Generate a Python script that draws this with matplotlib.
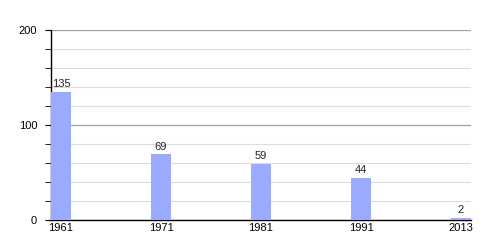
import matplotlib
matplotlib.use("Agg")
import matplotlib.pyplot as plt
import numpy as np

years = ["1961", "1971", "1981", "1991", "2013"]
values = [135, 69, 59, 44, 2]

plt.rcParams['font.family'] = ['Liberation Sans', 'DejaVu Sans']

fig = plt.figure(figsize=(5, 2.5), dpi=100)
ax = fig.add_axes([0.102, 0.12, 0.84, 0.76])

x = np.arange(len(years))
bw = 0.2
ax.bar(x, values, width=bw, align='edge', color='#99aaff', zorder=3)
for xi, v in zip(x, values):
    ax.text(xi + bw / 2, v + 3, str(v), ha='center', va='bottom', fontsize=8, color='#222222', zorder=4)

ax.set_xlim(0, 4.2)
ax.set_ylim(0, 200)
ax.set_xticks(x + bw / 2)
ax.set_xticklabels(years, fontsize=8)
ax.tick_params(axis='x', length=0, pad=2)
ax.set_yticks([0, 100, 200])
ax.set_yticks(np.arange(0, 201, 20), minor=True)
ax.tick_params(axis='y', which='major', length=4, labelsize=8, pad=6)
ax.tick_params(axis='y', which='minor', length=4)
ax.grid(axis='y', which='major', color='#a0a0a0', linewidth=0.9, zorder=0)
ax.grid(axis='y', which='minor', color='#dddddd', linewidth=0.8, zorder=0)
for s in ['top', 'right']:
    ax.spines[s].set_visible(False)
ax.spines['left'].set_linewidth(1.0)
ax.spines['bottom'].set_linewidth(1.0)

fig.savefig("out.png", dpi=100)
